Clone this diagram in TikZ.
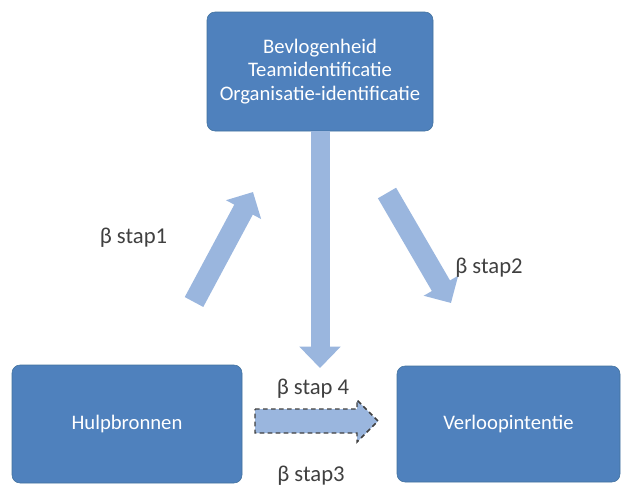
\documentclass[tikz,border=0pt]{standalone}
\usepackage{fontspec}
\setmainfont{Carlito}
\usepackage{xcolor}
\usepackage{tikz}
\usetikzlibrary{arrows.meta,calc}
\definecolor{boxblue}{HTML}{4F81BD}
\definecolor{boxedge}{HTML}{41719C}
\definecolor{arrblue}{HTML}{9AB6DE}
\definecolor{lbl}{HTML}{404040}
\tikzset{
  blok/.style={draw=boxedge,fill=boxblue,rounded corners=6pt,text=white,font=\fontsize{15.5}{17.5}\selectfont,align=center,inner sep=0pt},
  lab/.style={text=lbl,font=\fontsize{17}{19}\selectfont,inner sep=0pt},
  pijl/.style={arrblue,line width=14.25pt,-{Triangle[width=30pt,length=16pt]}},
  schuin/.style={arrblue,line width=15.75pt,-{Triangle[width=29pt,length=15pt]}},
  stippel/.style={draw=lbl,fill=arrblue,line width=1.1pt,dash pattern=on 3.5pt off 2.5pt},
}

\begin{document}
\begin{tikzpicture}[x=0.75pt,y=-0.75pt]
\useasboundingbox (0,0) rectangle (621,486);
% blokken
\node[blok,minimum width=169.5pt,minimum height=89.25pt] (bevl) at (320,71.5) {Bevlogenheid\\Teamidentificatie\\Organisatie-identificatie};
\node[blok,minimum width=172.5pt,minimum height=88.5pt] (hulp) at (127,424) {Hulpbronnen};
\node[blok,minimum width=167.25pt,minimum height=87pt] (verl) at (508.5,424) {Verloopintentie};
% pijlen
\coordinate (s1a) at (194,302); \coordinate (s1b) at (253,192);
\coordinate (s2a) at (387,193); \coordinate (s2b) at (451,303);
\coordinate (s4b) at (320,368);
\coordinate (s3a) at (255,421); \coordinate (s3b) at (378,421);
\draw[pijl] (bevl.south) -- (s4b);
\draw[schuin] (s1a) -- (s1b);
\draw[schuin] (s2a) -- (s2b);
\draw[stippel] ($(s3a)+(0,-12)$) -- ($(s3b)+(-21,-12)$) -- ($(s3b)+(-21,-21)$) -- (s3b)
  -- ($(s3b)+(-21,21)$) -- ($(s3b)+(-21,12)$) -- ($(s3a)+(0,12)$) -- cycle;
% labels
\node[lab] (l1) at (133.5,238) {β stap1};
\node[lab] (l2) at (489,268) {β stap2};
\node[lab] (l4) at (313,389) {β stap 4};
\node[lab] (l3) at (311,476) {β stap3};
\end{tikzpicture}
\end{document}
